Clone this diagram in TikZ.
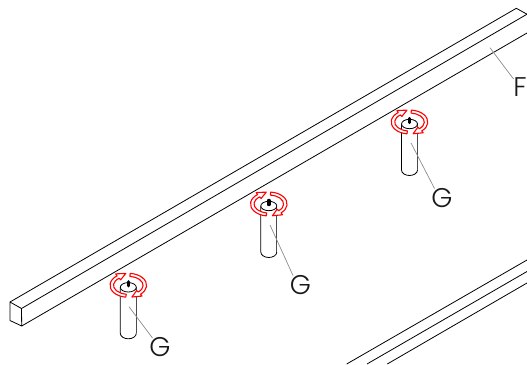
\documentclass[tikz,border=0pt]{standalone}
\usepackage{fontspec}
\setmainfont{Poppins}[UprightFont=* Light]
\tikzset{
  edgeline/.style={draw=black,line width=0.8pt,line join=round},
  leader/.style={draw=black!45,line width=0.7pt},
  ringband/.style={draw=red,fill=white,line width=1.1pt,line join=round},
  callout/.style={inner sep=0pt,font=\fontsize{27}{27}\selectfont,text=black!90}
}
\newcommand{\boltat}[2]{%
\begin{scope}[shift={(#1,#2)},x=1pt,y=1pt]
  % body
  \draw[edgeline] (-8,0) -- (-8,-46) arc[start angle=180,end angle=360,x radius=8,y radius=5.5];
  \draw[draw=black!70,line width=1.2pt] (8,0) -- (8,-46);
  % rotation arrows
  \begin{scope}[yshift=2pt]
  \path[ringband] (262:18.3 and 12) arc[start angle=262,end angle=128,x radius=18.3,y radius=12]
     -- (128:20.5 and 14.5) -- (98:18 and 12) -- (128:12.5 and 7) -- (128:14.8 and 9)
     arc[start angle=128,end angle=262,x radius=14.8,y radius=9] -- cycle;
  \path[ringband] (84:18.3 and 12) arc[start angle=84,end angle=-48,x radius=18.3,y radius=12]
     -- (-48:20.5 and 14.5) -- (-78:17.5 and 12) -- (-48:12.5 and 7) -- (-48:14.8 and 9)
     arc[start angle=-48,end angle=84,x radius=14.8,y radius=9] -- cycle;
  \end{scope}
  % head
  \draw[edgeline,fill=white] (0,0) ellipse[x radius=8,y radius=4.7];
  \draw[black,line width=3.4pt,line cap=round] (0,1.5) -- (0,5.5);
\end{scope}}
\begin{document}
\begin{tikzpicture}[x=1pt,y=-1pt]
\useasboundingbox (0,0) rectangle (527,364);
% upper beam
\coordinate (a) at (10,302);
\coordinate (b) at (21.5,308.5);
\coordinate (c) at (21.7,326);
\coordinate (d) at (10,320.5);
\coordinate (e) at (516.3,8.3);
\coordinate (f) at (527,14.2);
\coordinate (g) at (527,33);
\draw[edgeline] (a) -- (b) -- (c) -- (d) -- cycle;
\draw[edgeline] (a) -- (e) -- (f);
\draw[edgeline] (b) -- (f);
\draw[edgeline] (c) -- (g);
% lower beam
\coordinate (h1) at (346.7,364);
\coordinate (h2) at (527,260);
\coordinate (i1) at (367,364);
\coordinate (i2) at (527,271.5);
\coordinate (j1) at (387.3,364);
\coordinate (j2) at (527,283);
\draw[edgeline] (h1) -- (h2);
\draw[edgeline] (i1) -- (i2);
\draw[edgeline] (j1) -- (j2);
% bolts
\boltat{128.3}{287.3}
\boltat{268.8}{206}
\boltat{409.5}{124}
% labels and leaders
\node[callout] (lf) at (520,87.5) {F};
\node[callout] (g1) at (160,347) {G};
\node[callout] (g2) at (300.5,285) {G};
\node[callout] (g3) at (442,198) {G};
\coordinate (sf) at (490,47.7);
\coordinate (s1) at (129,306.7);
\coordinate (s2) at (270,225);
\coordinate (s3) at (411,143);
\coordinate (ef) at (513.5,79);
\coordinate (e1) at (152.5,338);
\coordinate (e2) at (293,275.5);
\coordinate (e3) at (434.5,188.5);
\draw[leader] (sf) -- (ef);
\draw[leader] (s1) -- (e1);
\draw[leader] (s2) -- (e2);
\draw[leader] (s3) -- (e3);
\end{tikzpicture}
\end{document}
